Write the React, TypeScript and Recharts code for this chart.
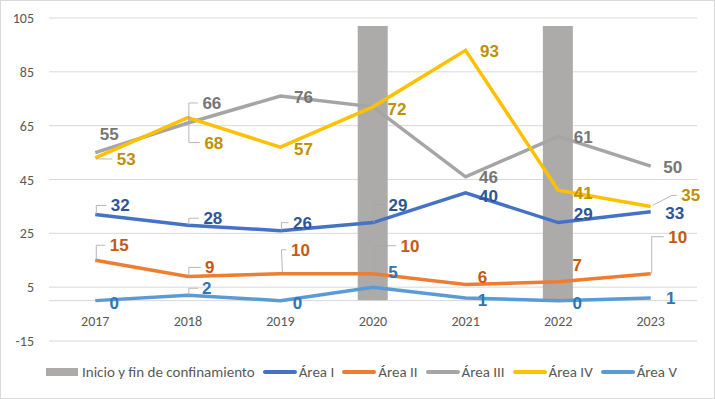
import React from "react";
import {
  ComposedChart,
  Bar,
  Line,
  XAxis,
  YAxis,
  CartesianGrid,
  Legend,
  ReferenceLine,
  LabelList,
} from "recharts";

// values
const years = ["2017", "2018", "2019", "2020", "2021", "2022", "2023"];
const confinement = [null, null, null, 102, null, 102, null];
const areaI = [32, 28, 26, 29, 40, 29, 33];
const areaII = [15, 9, 10, 10, 6, 7, 10];
const areaIII = [55, 66, 76, 72, 46, 61, 50];
const areaIV = [53, 68, 57, 72, 93, 41, 35];
const areaV = [0, 2, 0, 5, 1, 0, 1];
const yTicks = [-15, 5, 25, 45, 65, 85, 105];

const data = years.map((year, i) => ({
  year,
  conf: confinement[i],
  a1: areaI[i],
  a2: areaII[i],
  a3: areaIII[i],
  a4: areaIV[i],
  a5: areaV[i],
}));

// label placement: [dx, dy, leader] leader 0 none, 1 elbow, 2 diagonal
type Place = [number, number, number] | null;

const series: {
  key: string;
  name: string;
  color: string;
  labelColor: string;
  places: Place[];
}[] = [
  {
    key: "a1",
    name: "Área I",
    color: "#4472C4",
    labelColor: "#2F5597",
    places: [[25, -9, 1], [25, -7, 1], [22, -8, 1], [25, -18, 1], [23, 3, 0], [25, -9, 0], [24, 1, 0]],
  },
  {
    key: "a2",
    name: "Área II",
    color: "#ED7D31",
    labelColor: "#C55A11",
    places: [[24, -15, 1], [22, -9, 1], [20, -24, 2], [37, -28, 1], [17, -7, 0], [19, -17, 0], [27, -37, 1]],
  },
  {
    key: "a3",
    name: "Área III",
    color: "#A5A5A5",
    labelColor: "#767676",
    places: [[14, -19, 0], [24, -20, 1], [23, 1, 0], null, [23, 0, 0], [25, 1, 0], [22, 1, 0]],
  },
  {
    key: "a4",
    name: "Área IV",
    color: "#FFC000",
    labelColor: "#BF9000",
    places: [[31, 1, 1], [26, 25, 1], [23, 2, 0], [24, 2, 0], [24, 1, 0], [25, 3, 0], [40, -11, 2]],
  },
  {
    key: "a5",
    name: "Área V",
    color: "#5B9BD5",
    labelColor: "#2E75B6",
    places: [[19, 2, 0], [19, -7, 1], [17, 2, 0], [20, -15, 0], [17, 2, 0], [19, 2, 0], [20, 0, 0]],
  },
];

const tickFont = "Carlito, 'Liberation Sans Narrow', 'Liberation Sans', Arial, sans-serif";
const labelFont = "'Liberation Sans', Arial, sans-serif";

function makeLabel(places: Place[], color: string) {
  return (props: any) => {
    const x = props.x ?? props.viewBox?.x;
    const y = props.y ?? props.viewBox?.y;
    const idx = props.index;
    const place = places[idx];
    if (place == null || x == null || y == null) return null;
    const [dx, dy, leader] = place;
    const lx = x + dx;
    const ly = y + dy;
    const text = String(props.value);
    const half = text.length * 5;
    const end = lx - half - 4;
    let path = "";
    if (leader === 1) path = `M${x + 1},${y} V${ly} H${end}`;
    if (leader === 2) path = `M${x + 2},${y - 1} L${end - 5},${ly} H${end}`;
    return (
      <g>
        {path && <path d={path} stroke="#A6A6A6" strokeWidth={0.8} fill="none" />}
        <text
          x={lx}
          y={ly}
          dy={6}
          textAnchor="middle"
          fill={color}
          fontSize={17}
          fontWeight="bold"
          fontFamily={labelFont}
        >
          {text}
        </text>
      </g>
    );
  };
}

function LegendBox() {
  return (
    <div
      style={{
        display: "flex",
        alignItems: "center",
        paddingLeft: 45,
        fontFamily: tickFont,
        fontSize: 15,
        color: "#595959",
        whiteSpace: "nowrap",
      }}
    >
      <span style={{ width: 32, height: 8, background: "#ADAAAA", marginRight: 4 }} />
      <span style={{ marginRight: 8 }}>Inicio y fin de confinamiento</span>
      {series.map((s) => (
        <React.Fragment key={s.key}>
          <span style={{ width: 34, height: 4, background: s.color, borderRadius: 2, marginRight: 2 }} />
          <span style={{ marginRight: 8 }}>{s.name}</span>
        </React.Fragment>
      ))}
    </div>
  );
}

export default function App() {
  return (
    <div
      style={{
        position: "absolute",
        left: 0,
        top: 0,
        width: 715,
        height: 399,
        background: "#fff",
        border: "1px solid #D9D9D9",
        boxSizing: "border-box",
      }}
    >
      <ComposedChart
        width={713}
        height={397}
        data={data}
        margin={{ top: 17, right: 17, bottom: 27, left: 0 }}
      >
        <CartesianGrid vertical={false} stroke="#D9D9D9" />
        <XAxis
          dataKey="year"
          axisLine={false}
          tickLine={false}
          height={30}
          tick={(p: any) => (
            <text
              x={p.x}
              y={325}
              textAnchor="middle"
              fill="#595959"
              fontSize={14}
              fontFamily={tickFont}
            >
              {p.payload.value}
            </text>
          )}
        />
        <YAxis
          width={48}
          domain={[-15, 105]}
          ticks={yTicks}
          interval={0}
          axisLine={false}
          tickLine={false}
          tick={(p: any) => (
            <text
              x={33}
              y={p.y}
              dy={5}
              textAnchor="end"
              fill="#595959"
              fontSize={14}
              fontFamily={tickFont}
            >
              {p.payload.value}
            </text>
          )}
        />
        <ReferenceLine y={0} stroke="#D9D9D9" />
        <Bar dataKey="conf" fill="#ADAAAA" barSize={30} isAnimationActive={false} />
        {series.map((s) => (
          <Line
            key={s.key}
            dataKey={s.key}
            name={s.name}
            stroke={s.color}
            strokeWidth={3.5}
            type="linear"
            dot={false}
            activeDot={false}
            isAnimationActive={false}
          />
        ))}
        {series.map((s) => (
          <Line
            key={s.key + "-labels"}
            dataKey={s.key}
            stroke="none"
            dot={false}
            activeDot={false}
            legendType="none"
            isAnimationActive={false}
          >
            <LabelList dataKey={s.key} content={makeLabel(s.places, s.labelColor)} />
          </Line>
        ))}
        <Legend
          layout="horizontal"
          verticalAlign="middle"
          align="center"
          wrapperStyle={{ top: 362, left: 0, width: 713 }}
          content={() => <LegendBox />}
        />
      </ComposedChart>
    </div>
  );
}
